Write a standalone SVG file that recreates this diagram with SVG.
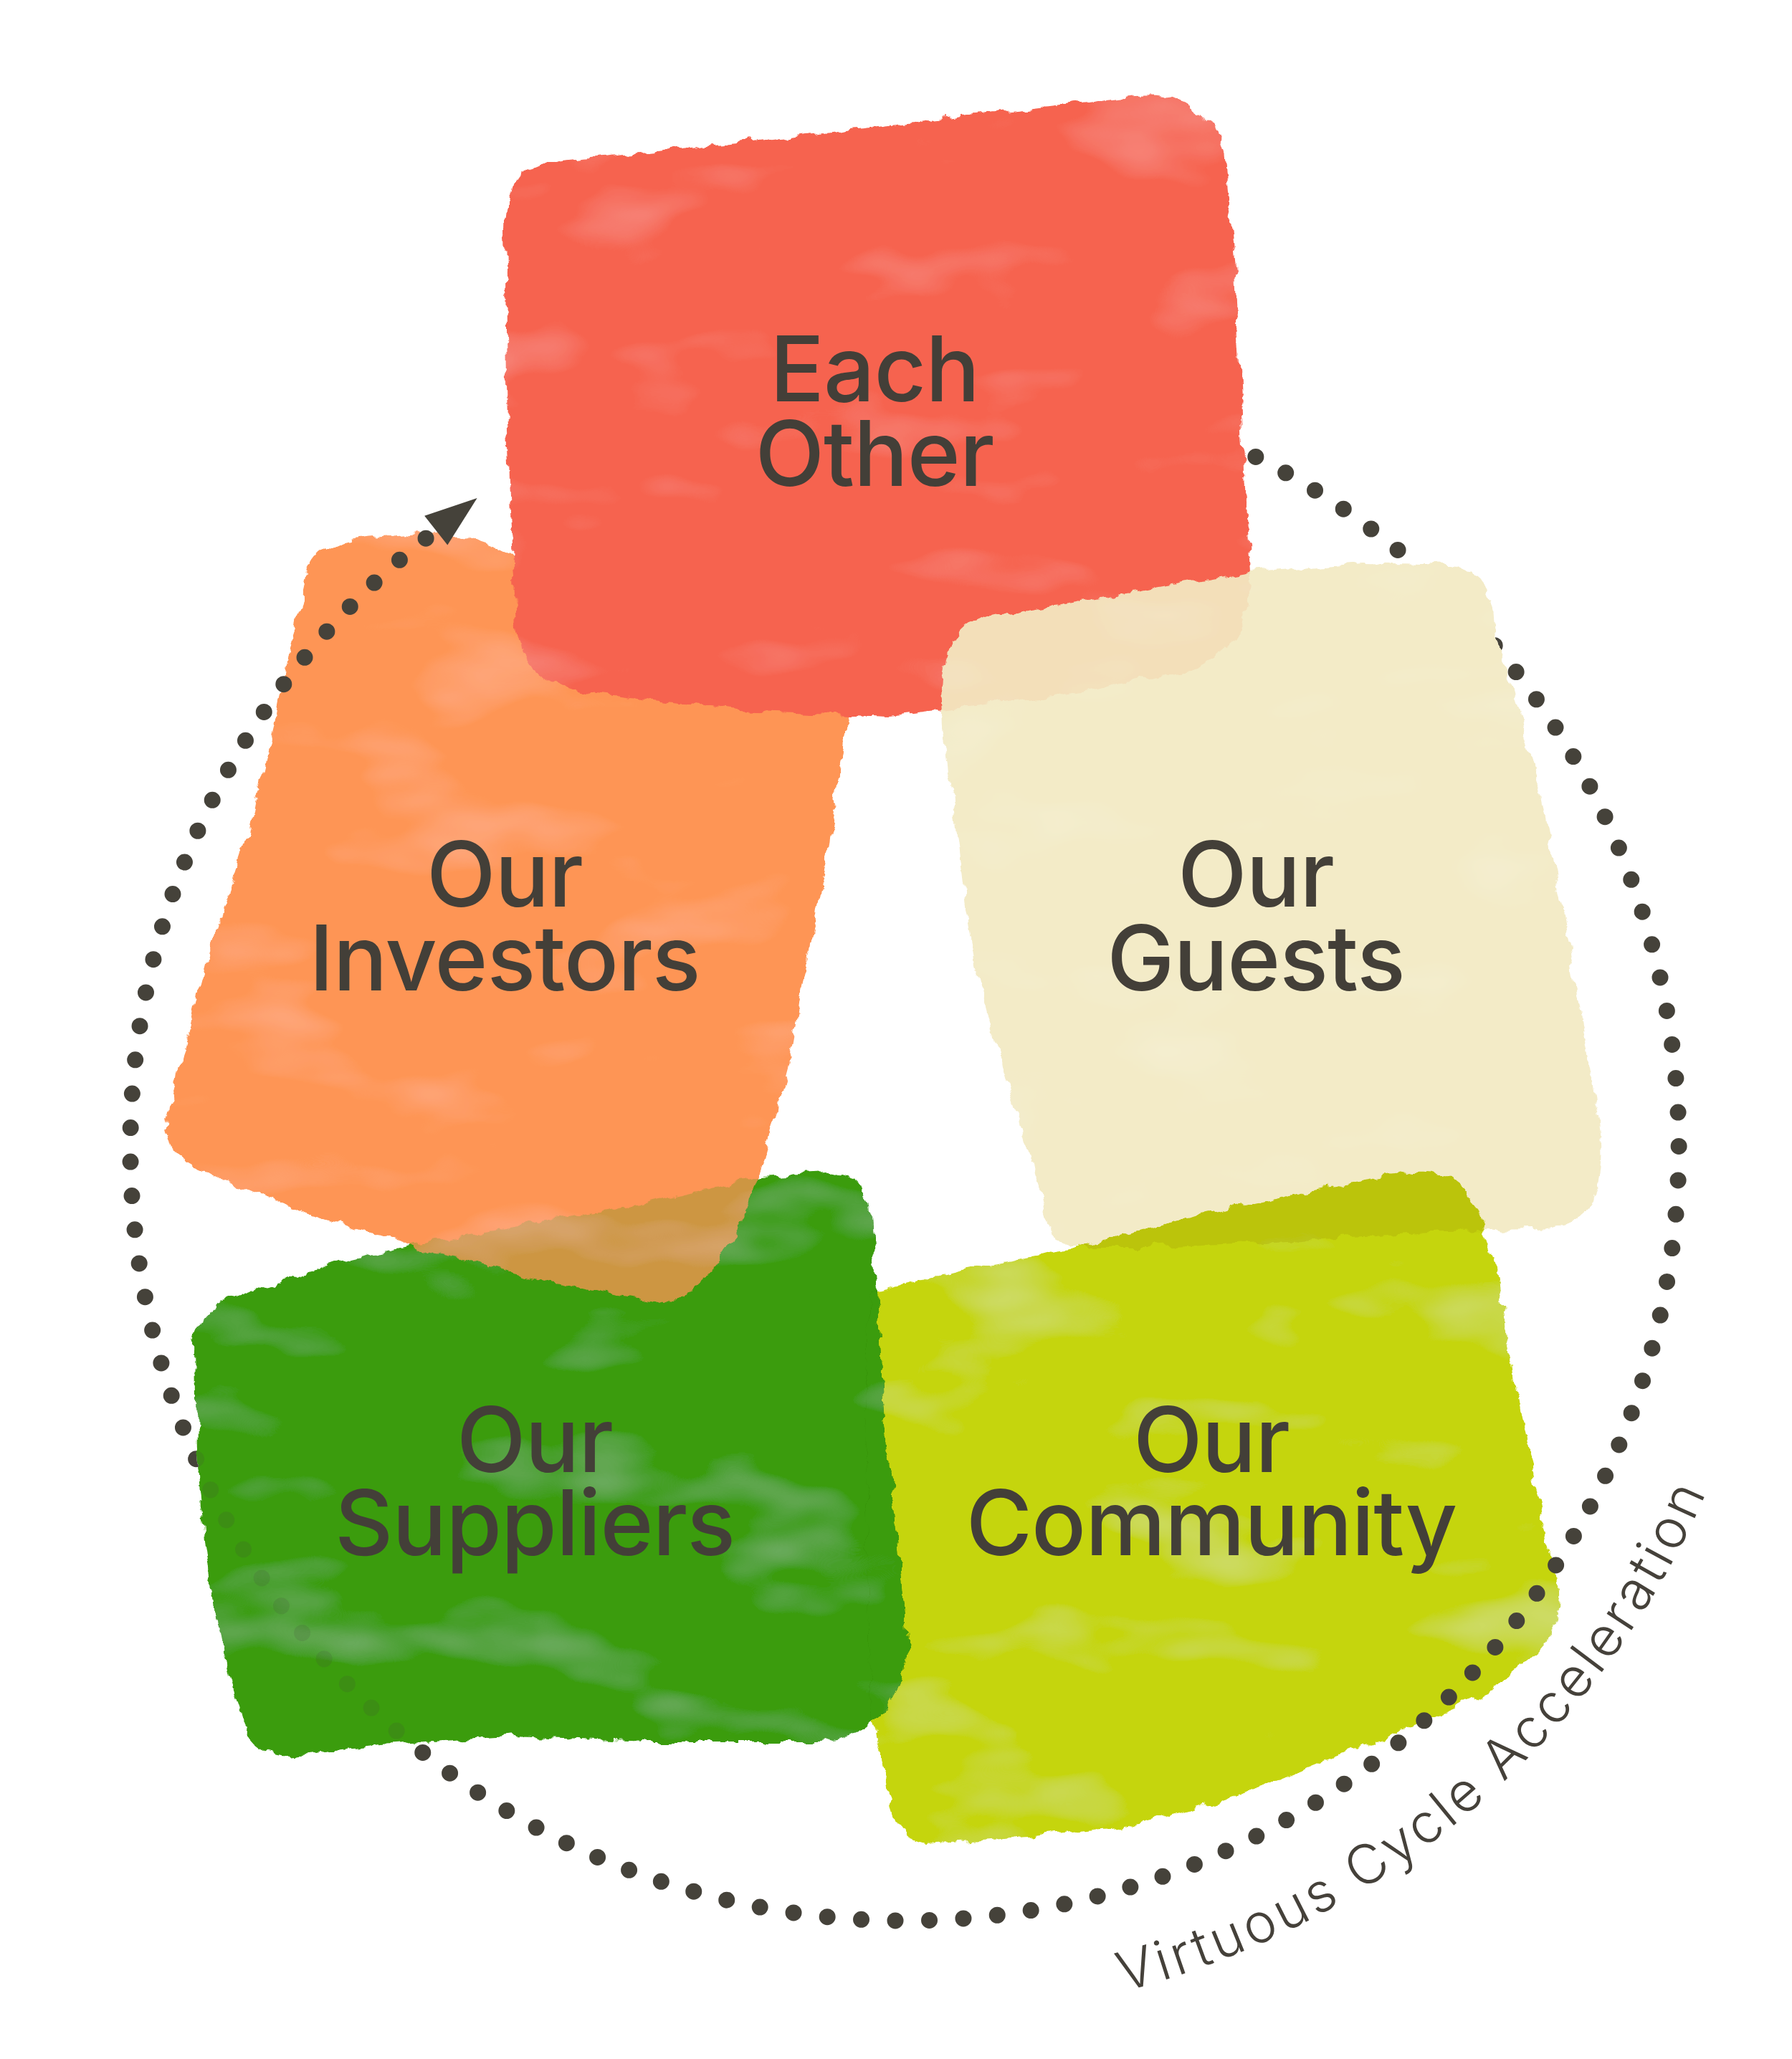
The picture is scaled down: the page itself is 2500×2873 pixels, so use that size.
<svg xmlns="http://www.w3.org/2000/svg" width="2500" height="2873" viewBox="0 0 2500 2873">
<defs>
<style>
.lbl { font-family: Inter, "Noto Sans", "Liberation Sans", sans-serif; font-weight: 500; font-size: 126px; fill: #433F38; text-anchor: middle; letter-spacing: -1px; }
.cyc { font-family: Inter, "Noto Sans", "Liberation Sans", sans-serif; font-weight: 300; font-size: 76px; fill: #45413A; letter-spacing: 5px; }
.dots { fill: none; stroke: #45423A; stroke-width: 23; stroke-linecap: round; stroke-dasharray: 0 47.5; }
</style>
<filter id="rough" filterUnits="userSpaceOnUse" x="0" y="0" width="2500" height="2873">
  <feTurbulence type="fractalNoise" baseFrequency="0.035" numOctaves="4" seed="4" result="n"/>
  <feDisplacementMap in="SourceGraphic" in2="n" scale="18" xChannelSelector="R" yChannelSelector="G"/>
</filter>
<filter id="wc" filterUnits="userSpaceOnUse" x="0" y="0" width="2500" height="2873">
  <feTurbulence type="fractalNoise" baseFrequency="0.035" numOctaves="4" seed="4" result="n"/>
  <feDisplacementMap in="SourceGraphic" in2="n" scale="18" xChannelSelector="R" yChannelSelector="G" result="d"/>
  <feTurbulence type="fractalNoise" baseFrequency="0.004 0.009" numOctaves="3" seed="11" result="n2"/>
  <feColorMatrix in="n2" type="matrix" values="0 0 0 0 1  0 0 0 0 1  0 0 0 0 1  -0.4 0 0 0 0.17" result="lite"/>
  <feComposite in="lite" in2="d" operator="in" result="li"/>
  <feMerge><feMergeNode in="d"/><feMergeNode in="li"/></feMerge>
</filter>
<path id="sh-red" d="M 704,320 Q 706,232 772,224 L 1100,192 L 1585,134 Q 1685,128 1708,212 L 1724,380 L 1734,600 L 1744,800 Q 1746,905 1660,935 L 1450,975 L 1240,1000 L 1030,992 L 825,966 Q 730,955 720,875 L 708,600 Z"/>
<path id="sh-orange" d="M 428,800 Q 440,758 500,752 L 620,742 L 720,775 L 950,830 L 1180,905 Q 1195,960 1180,1030 L 1155,1180 L 1128,1330 L 1102,1480 L 1068,1610 L 1035,1700 Q 995,1795 930,1818 L 860,1808 L 760,1786 L 615,1752 L 500,1716 L 370,1672 L 270,1628 Q 224,1604 232,1560 L 292,1330 L 340,1183 L 367,1083 L 387,1000 L 405,905 Z"/>
<path id="sh-green" d="M 272,1870 Q 280,1825 335,1808 L 470,1762 L 610,1730 L 850,1690 L 1060,1642 L 1175,1636 Q 1208,1642 1215,1700 L 1227,1853 L 1232,1960 L 1242,2060 L 1252,2150 L 1266,2300 Q 1262,2365 1220,2400 Q 1190,2428 1145,2430 L 900,2430 L 720,2422 L 520,2436 L 405,2450 Q 355,2448 343,2410 L 317,2330 L 300,2250 L 285,2140 L 274,2030 Z"/>
<path id="sh-lime" d="M 1212,1805 L 1350,1770 L 1483,1746 L 1650,1700 L 1833,1660 L 1975,1636 Q 2042,1632 2066,1700 L 2090,1770 L 2112,1925 L 2140,2060 L 2166,2180 Q 2184,2238 2168,2272 Q 2148,2305 2118,2327 L 2077,2362 L 1990,2398 L 1904,2436 L 1788,2483 L 1673,2521 L 1558,2550 L 1400,2565 L 1292,2572 Q 1256,2566 1248,2530 L 1214,2380 L 1208,2000 Z"/>
<path id="sh-cream" d="M 1312,960 Q 1318,872 1380,860 L 1560,830 L 1743,798 L 1900,785 L 2025,788 Q 2072,798 2082,850 L 2086,890 L 2105,940 L 2122,1000 L 2150,1110 L 2170,1220 L 2192,1340 L 2212,1460 L 2230,1560 Q 2244,1645 2214,1690 Q 2188,1714 2140,1715 L 2016,1717 L 1800,1730 L 1600,1740 L 1492,1740 Q 1462,1722 1450,1662 L 1420,1560 L 1393,1466 L 1362,1350 L 1345,1250 L 1330,1120 L 1316,1030 Z"/>
<path id="txtarc" d="M 1515.3,2791.3 A 1218,1218 0 0 0 2420.4,1976.4"/>
<mask id="m-dots" maskUnits="userSpaceOnUse" x="0" y="0" width="2500" height="2873">
  <rect x="0" y="0" width="2500" height="2873" fill="#fff"/>
  <use href="#sh-red" fill="#000" filter="url(#rough)"/>
  <use href="#sh-cream" fill="#000" filter="url(#rough)"/>
  <use href="#sh-green" fill="#262626" filter="url(#rough)"/>
</mask>
<mask id="m-orange" maskUnits="userSpaceOnUse" x="0" y="0" width="2500" height="2873">
  <use href="#sh-orange" fill="#404040" filter="url(#rough)"/>
</mask>
<mask id="m-lime" maskUnits="userSpaceOnUse" x="0" y="0" width="2500" height="2873">
  <use href="#sh-lime" fill="#fff" filter="url(#rough)"/>
</mask>
<marker id="arrow" markerUnits="userSpaceOnUse" markerWidth="100" markerHeight="60" refX="0" refY="30" orient="auto-start-reverse" overflow="visible">
  <path d="M 18,4 L 91,30 L 18,56 Z" fill="#45423A"/>
</marker>
</defs>
<rect x="0" y="0" width="2500" height="2873" fill="#ffffff"/>

<g id="node-suppliers">
  <use href="#sh-green" fill="#3A9C11" filter="url(#wc)"/>
  <text class="lbl" x="746" y="2054"><tspan x="746">Our</tspan><tspan x="746" dy="116">Suppliers</tspan></text>
</g>

<g id="node-investors">
  <use href="#sh-orange" fill="#FE9555" filter="url(#wc)"/>
  <use href="#sh-green" fill="#3A9C11" filter="url(#wc)" mask="url(#m-orange)"/>
  <text class="lbl" x="704" y="1265"><tspan x="704">Our</tspan><tspan x="704" dy="117">Investors</tspan></text>
</g>

<g id="node-each-other">
  <use href="#sh-red" fill="#F66350" filter="url(#wc)"/>
  <text class="lbl" x="1220" y="560"><tspan x="1220">Each</tspan><tspan x="1220" dy="118">Other</tspan></text>
</g>

<g id="node-guests">
  <use href="#sh-cream" fill="#F3EAC3" opacity="0.92" filter="url(#wc)"/>
  <text class="lbl" x="1752" y="1265"><tspan x="1752">Our</tspan><tspan x="1752" dy="117">Guests</tspan></text>
</g>

<g id="node-community">
  <use href="#sh-lime" fill="#C5D50A" filter="url(#wc)" style="mix-blend-mode: multiply"/>
  <text class="lbl" x="1690" y="2054"><tspan x="1690">Our</tspan><tspan x="1690" dy="116">Community</tspan></text>
</g>

<g id="node-suppliers-edge">
  <use href="#sh-green" fill="#3A9C11" filter="url(#wc)" mask="url(#m-lime)"/>
</g>

<g id="connectors">
  <path class="dots" d="M 594.1,751.2 A 1080,1080 0 0 0 1412.3,2669.5 A 1080,1080 0 0 0 1666.6,598.6" mask="url(#m-dots)" marker-start="url(#arrow)"/>
  <text class="cyc"><textPath href="#txtarc" startOffset="53">Virtuous Cycle Acceleration</textPath></text>
</g>
</svg>
